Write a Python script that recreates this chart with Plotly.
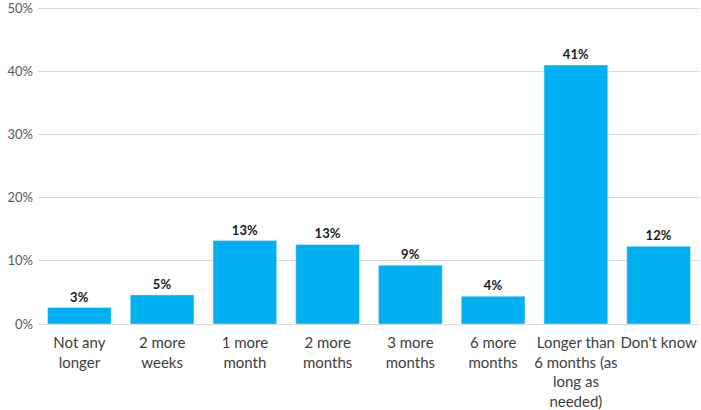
import plotly.graph_objects as go

categories = [
    "Not any<br>longer",
    "2 more<br>weeks",
    "1 more<br>month",
    "2 more<br>months",
    "3 more<br>months",
    "6 more<br>months",
    "Longer than<br>6 months (as<br>long as<br>needed)",
    "Don't know",
]
values = [2.6, 4.6, 13.2, 12.6, 9.3, 4.4, 41.0, 12.3]
labels = ["3%", "5%", "13%", "13%", "9%", "4%", "41%", "12%"]
y_ticks = [0, 10, 20, 30, 40, 50]
y_tick_labels = ["0%", "10%", "20%", "30%", "40%", "50%"]

fig = go.Figure(
    data=go.Bar(
        x=categories,
        y=values,
        text=labels,
        textposition="outside",
        textfont=dict(family="Lato", size=13, color="#1a1a1a", weight="bold"),
        cliponaxis=False,
        marker=dict(color="#00B0F0"),
        hoverinfo="skip",
    )
)

fig.update_layout(
    width=701,
    height=410,
    margin=dict(l=38, r=1, t=5, b=86),
    paper_bgcolor="white",
    plot_bgcolor="white",
    bargap=0.23,
    showlegend=False,
    font=dict(family="Lato", size=14, color="#404040"),
)
fig.update_xaxes(
    tickfont=dict(size=15, color="#404040"),
    showline=True,
    linecolor="#d9d9d9",
    ticks="",
    ticklabelstandoff=5,
    automargin=False,
)
fig.update_yaxes(
    range=[0, 50.5],
    tickvals=y_ticks,
    ticktext=y_tick_labels,
    tickfont=dict(size=13, color="#595959"),
    showgrid=True,
    gridcolor="#d9d9d9",
    zeroline=False,
    ticks="",
    ticklabelstandoff=4,
    ticklabeloverflow="allow",
    automargin=False,
)

# drop the default body margin so the figure sits flush in the window
fig.write_html(
    "out.html",
    config={"displayModeBar": False},
    post_script="document.body.style.margin='0';",
)
